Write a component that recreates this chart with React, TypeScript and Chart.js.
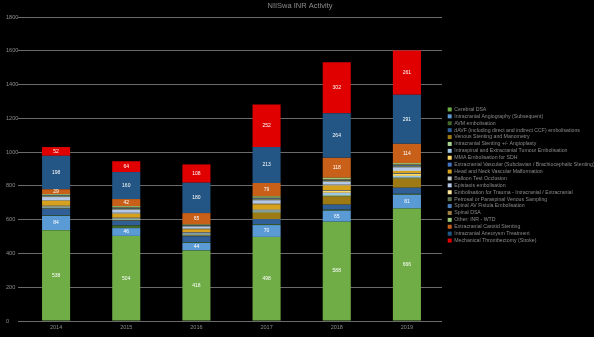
import React, { useEffect, useRef } from 'react';
import { Chart, registerables } from 'chart.js';

Chart.register(...registerables);

const years = ['2014', '2015', '2016', '2017', '2018', '2019'];

const cerebralDSA = [538, 504, 418, 498, 588, 666];
const angioSubsequent = [84, 46, 44, 70, 65, 81];
const avm = [3, 16, 4, 5, 6, 6];
const davf = [40, 28, 36, 30, 30, 36];
const venousStenting = [2, 3, 4, 38, 48, 54];
const icStenting = [4, 4, 5, 6, 8, 6];
const tumour = [6, 6, 8, 8, 14, 10];
const mma = [3, 2, 3, 6, 12, 12];
const extracranialVascular = [2, 2, 3, 2, 3, 3];
const headNeckVM = [30, 24, 18, 28, 28, 14];
const bto = [4, 6, 4, 6, 6, 6];
const epistaxis = [18, 18, 12, 18, 16, 16];
const trauma = [2, 2, 2, 3, 3, 3];
const petrosal = [4, 5, 4, 4, 5, 5];
const spinalAvf = [3, 4, 3, 4, 4, 4];
const spinalDsa = [2, 4, 3, 4, 4, 5];
const otherInr = [6, 6, 3, 8, 8, 8];
const carotidStenting = [29, 42, 65, 79, 118, 114];
const aneurysmTreatment = [198, 160, 180, 213, 264, 291];
const thrombectomy = [52, 64, 108, 252, 302, 261];

const yMax = 1800;
const yStep = 200;

const seriesNames = [
  'Cerebral DSA',
  'Intracranial Angiography (Subsequent)',
  'AVM embolisation',
  'dAVF (including direct and indirect CCF) embolisations',
  'Venous Stenting and Manometry',
  'Intracranial Stenting +/- Angioplasty',
  'Intraspinal and Extracranial Tumour Embolisation',
  'MMA Embolisation for SDH',
  'Extracranial Vascular (Subclavian / Brachiocephalic Stenting)',
  'Head and Neck Vascular Malformation',
  'Balloon Test Occlusion',
  'Epistaxis embolisation',
  'Embolisation for Trauma - Intracranial / Extracranial',
  'Petrosal or Paraspinal Venous Sampling',
  'Spinal AV Fistula Embolisation',
  'Spinal DSA',
  'Other: INR - WTD',
  'Extracranial Carotid Stenting',
  'Intracranial Aneurysm Treatment',
  'Mechanical Thrombectomy (Stroke)',
];

const seriesValues = [
  cerebralDSA, angioSubsequent, avm, davf, venousStenting, icStenting, tumour, mma,
  extracranialVascular, headNeckVM, bto, epistaxis, trauma, petrosal, spinalAvf,
  spinalDsa, otherInr, carotidStenting, aneurysmTreatment, thrombectomy,
];

const seriesColors = [
  '#70AD47', '#5B9BD5', '#43682B', '#2F5F96', '#9E7A14', '#A9D18E', '#9DC3E6', '#FFD966',
  '#4472C4', '#D6A21E', '#BFC8C4', '#B4C7E7', '#FFE699', '#5E7452', '#4A7DB8',
  '#A08040', '#9BCB78', '#C9601A', '#235684', '#E00000',
];

const labeledSeries = [0, 1, 17, 18, 19];

const FONT = "'Liberation Sans', Arial, sans-serif";

const segLabels = {
  id: 'segLabels',
  afterDatasetsDraw(chart: any) {
    const ctx = chart.ctx;
    ctx.save();
    ctx.font = `5px ${FONT}`;
    ctx.fillStyle = '#ffffff';
    ctx.textAlign = 'center';
    ctx.textBaseline = 'middle';
    labeledSeries.forEach((di) => {
      const meta = chart.getDatasetMeta(di);
      meta.data.forEach((el: any, i: number) => {
        const v = chart.data.datasets[di].data[i];
        const p = el.getProps(['x', 'y', 'base'], true);
        ctx.fillText(String(v), p.x, (p.y + p.base) / 2);
      });
    });
    ctx.restore();
  },
};

export default function App() {
  const ref = useRef<HTMLCanvasElement>(null);
  useEffect(() => {
    document.body.style.margin = '0';
    document.body.style.background = '#000';
    Chart.defaults.font.family = FONT;
    const chart = new Chart(ref.current as HTMLCanvasElement, {
      type: 'bar',
      data: {
        labels: years,
        datasets: seriesNames.map((name, i) => ({
          label: name,
          data: seriesValues[i],
          backgroundColor: seriesColors[i],
          borderWidth: 0,
          barPercentage: 0.4,
          categoryPercentage: 1.0,
        })),
      },
      options: {
        animation: false,
        responsive: true,
        maintainAspectRatio: false,
        devicePixelRatio: 1,
        layout: { padding: { left: 6, right: 0, top: 0, bottom: 0 } },
        plugins: {
          tooltip: { enabled: false },
          title: {
            display: true,
            text: 'NIISwa INR Activity',
            color: '#8c8c8c',
            font: { size: 7.5, weight: 'normal', lineHeight: 1.2, family: FONT },
            padding: { top: 1, bottom: 7 },
          },
          legend: {
            position: 'right',
            align: 'center',
            maxWidth: 148,
            title: { display: true, text: ' ', padding: 0, font: { size: 13, lineHeight: 1 } },
            labels: {
              boxWidth: 4,
              boxHeight: 4,
              padding: 1.7,
              color: '#8a8a8a',
              font: { size: 5.2, family: FONT },
            },
          },
        },
        scales: {
          x: {
            stacked: true,
            grid: { display: false, drawTicks: false },
            border: { display: false },
            ticks: { color: '#8c8c8c', font: { size: 5.5 }, padding: 3 },
            afterFit(s: any) { s.height = 16; },
          },
          y: {
            stacked: true,
            min: 0,
            max: yMax,
            border: { display: false },
            grid: { color: '#6a6a6a', lineWidth: 1, tickLength: 3, drawTicks: true, tickColor: '#6a6a6a' },
            ticks: {
              stepSize: yStep,
              color: '#8c8c8c',
              font: { size: 5.6 },
              crossAlign: 'far',
              callback: (v: any) => String(v),
            },
            afterFit(s: any) { s.width = 15; },
          },
          gap: {
            type: 'linear',
            position: 'right',
            display: true,
            grid: { display: false, drawTicks: false },
            border: { display: false },
            ticks: { display: false },
            afterFit(s: any) { s.width = 4; },
          },
        },
      } as any,
      plugins: [segLabels],
    });
    return () => chart.destroy();
  }, []);
  return (
    <div style={{ position: 'fixed', left: 0, top: 0, width: 594, height: 337, background: '#000' }}>
      <canvas ref={ref} />
    </div>
  );
}
